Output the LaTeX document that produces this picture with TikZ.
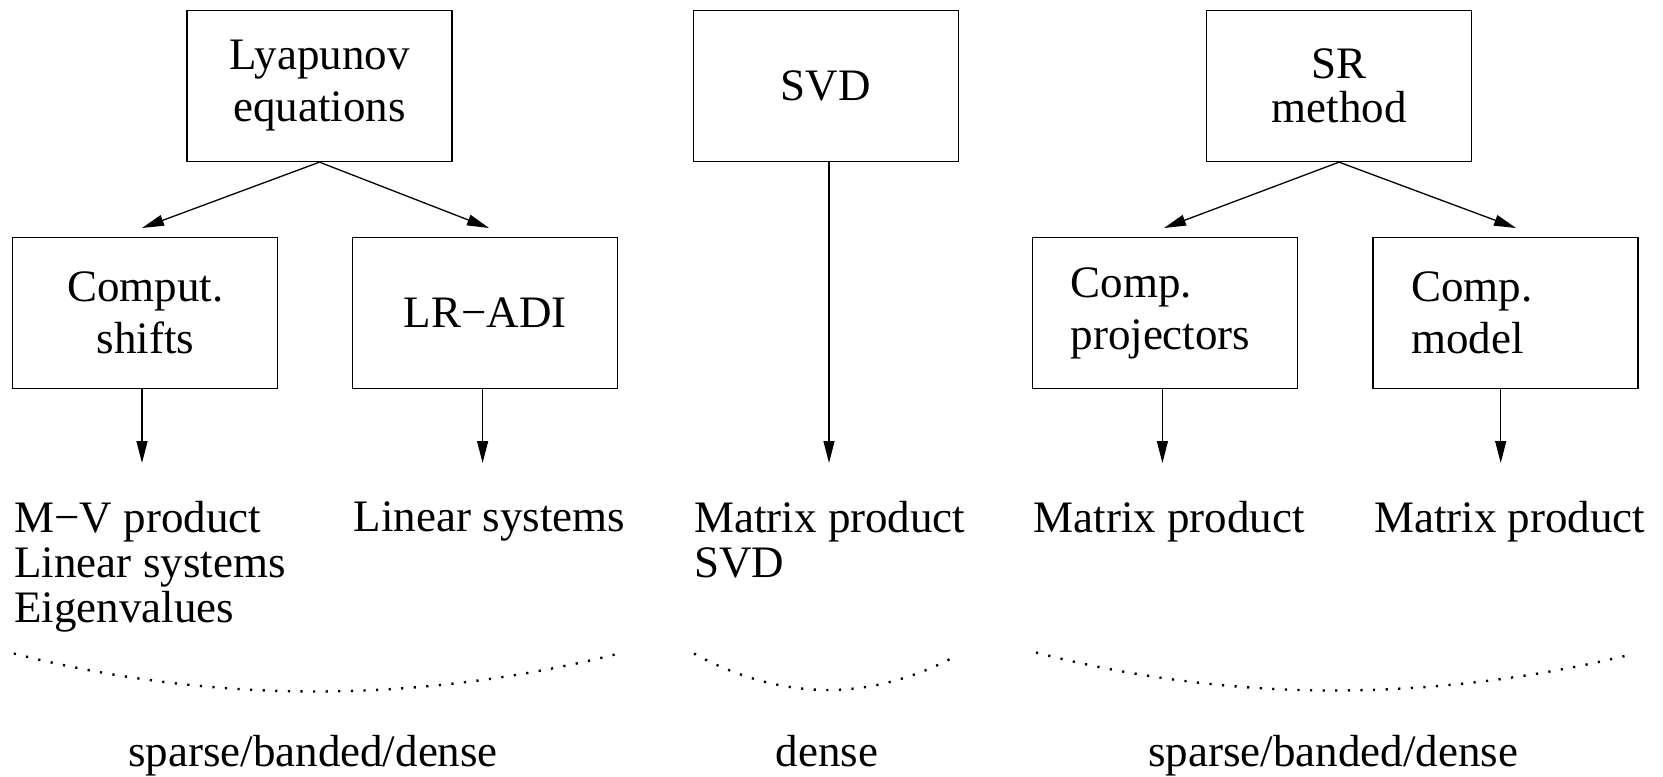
\documentclass[tikz,border=0pt]{standalone}
\usepackage{fontspec}
\setmainfont{Liberation Serif}
\usetikzlibrary{arrows.meta}
\begin{document}
\begin{tikzpicture}[x=0.5pt,y=-0.5pt,line width=0.65pt,
  box/.style={draw,rectangle,inner xsep=0pt,inner ysep=0pt,
    minimum width=132.5pt,minimum height=75.5pt,align=center,
    font=\fontsize{22.5}{26}\selectfont},
  lbox/.style={draw,rectangle,inner xsep=19pt,inner ysep=0pt,
    text width=94.5pt,minimum height=75.5pt,align=left,
    font=\fontsize{22.5}{26}\selectfont},
  ops/.style={anchor=north west,inner sep=0pt,align=left,
    font=\fontsize{22.5}{22.5}\selectfont},
  kind/.style={anchor=base,inner sep=0pt,font=\fontsize{22.5}{22.5}\selectfont},
  arr/.style={-{Triangle[length=11pt,width=5.5pt]}},
  dots/.style={line width=1.2pt,dash pattern=on 1.1pt off 5.2pt}]
\useasboundingbox (0,0) rectangle (1663,776);

% top-level methods
\node[box] (lyap) at (319.5,86) {Lyapunov\\equations};
\node[box] (svd) at (825.7,86) {SVD};
\node[box,font=\fontsize{22.5}{22}\selectfont] (sr) at (1339,86) {SR\\method};

% sub-steps
\node[box] (shifts) at (145.3,313) {Comput.\\shifts};
\node[box] (adi) at (485.2,313) {LR−ADI};
\node[lbox] (proj) at (1165,313) {Comp.\\projectors};
\node[lbox] (model) at (1505.5,313) {Comp.\\model};

% required kernels
\node[ops] (k1) at (13.8,501) {M−V product\\Linear systems\\Eigenvalues};
\node[ops] (k2) at (353.2,501) {Linear systems};
\node[ops] (k3) at (693.6,501) {Matrix product\\SVD};
\node[ops] (k4) at (1033,501) {Matrix product};
\node[ops] (k5) at (1373.5,501) {Matrix product};

% matrix structure
\node[kind] (s1) at (313,766) {sparse/banded/dense};
\node[kind] (s2) at (827,766) {dense};
\node[kind] (s3) at (1333,766) {sparse/banded/dense};

% branching arrows
\coordinate (a1) at (142,228);
\coordinate (a2) at (489,228);
\coordinate (a3) at (1164,228);
\coordinate (a4) at (1516,228);
\draw[arr] (lyap.south) -- (a1);
\draw[arr] (lyap.south) -- (a2);
\draw[arr] (sr.south) -- (a3);
\draw[arr] (sr.south) -- (a4);

% downward arrows
\coordinate (v1) at (142,463);
\coordinate (v2) at (482.6,463);
\coordinate (v3) at (829,463);
\coordinate (v4) at (1162.4,463);
\coordinate (v5) at (1500.7,463);
\draw[arr] (shifts.south -| v1) -- (v1);
\draw[arr] (adi.south -| v2) -- (v2);
\draw[arr] (svd.south -| v3) -- (v3);
\draw[arr] (proj.south -| v4) -- (v4);
\draw[arr] (model.south -| v5) -- (v5);

% dotted braces
\draw[dots] (13.8,653.5) parabola bend (315,691.5) (619,653.5);
\draw[dots] (694,653.5) parabola bend (828,690) (953,657.5);
\draw[dots] (1036,652.5) parabola bend (1333,690.5) (1633,654);
\end{tikzpicture}
\end{document}
